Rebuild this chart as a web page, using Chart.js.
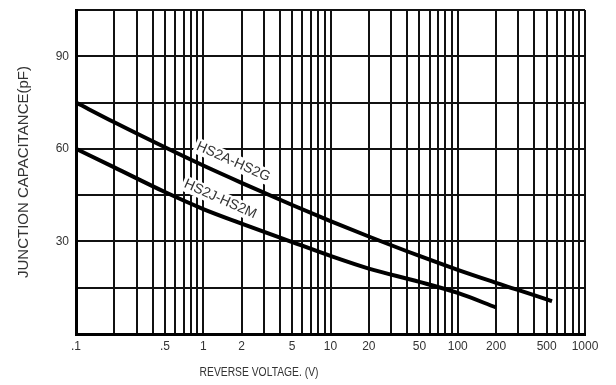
<!DOCTYPE html>
<html>
<head>
<meta charset="utf-8">
<script src="https://cdn.jsdelivr.net/npm/chart.js@4/dist/chart.umd.min.js"></script>
<style>
  html, body { margin: 0; padding: 0; background: #fff; }
  #wrap { width: 616px; height: 385px; }
</style>
</head>
<body>
<div id="wrap"><canvas id="capChart"></canvas></div>
<script>
// curve HS2A-HS2G
const voltsA = [0.1, 0.2, 0.5, 1, 2, 5, 10, 20, 50, 100, 200, 500, 550];
const capA = [75, 68.6, 60.5, 54.6, 49, 41.8, 36.6, 31.6, 25.3, 20.8, 16.6, 11.2, 10.6];
// curve HS2J-HS2M
const voltsB = [0.1, 0.2, 0.5, 1, 2, 5, 10, 20, 50, 100, 200];
const capB = [60, 54, 46, 40.5, 35.8, 29.8, 25.3, 21.2, 16.9, 13.3, 8.6];

const xTickValues = [0.1, 0.5, 1, 2, 5, 10, 20, 50, 100, 200, 500, 1000];
const xTickLabels = [".1", ".5", "1", "2", "5", "10", "20", "50", "100", "200", "500", "1000"];
const yTickValues = [30, 60, 90];

// curve names, placed at (volts, pF)
const curveNames = [
  { text: "HS2A-HS2G", v: 1.72, c: 55.8 },
  { text: "HS2J-HS2M", v: 1.36, c: 43.7 }
];

// vertical grid at 1..9 of every decade
const gridVolts = [];
for (let e = -1; e < 3; e++) {
  for (let m = 1; m < 10; m++) gridVolts.push(+(m * Math.pow(10, e)).toPrecision(3));
}
gridVolts.push(1000);

function toPoints(xs, ys) {
  return xs.map((x, i) => ({ x: x, y: ys[i] }));
}

const curveLabels = {
  id: "curveLabels",
  afterDatasetsDraw(chart) {
    const ctx = chart.ctx;
    const xs = chart.scales.x, ys = chart.scales.y;
    ctx.save();
    ctx.font = "14px 'Liberation Sans', Arial, sans-serif";
    ctx.textAlign = "center";
    ctx.textBaseline = "middle";
    curveNames.forEach(n => {
      const px = xs.getPixelForValue(n.v);
      const py = ys.getPixelForValue(n.c);
      const w = ctx.measureText(n.text).width + 4;
      ctx.save();
      ctx.translate(px, py);
      ctx.rotate(24 * Math.PI / 180);
      ctx.fillStyle = "#fff";
      ctx.fillRect(-w / 2, -8, w, 16);
      ctx.fillStyle = "#333";
      ctx.fillText(n.text, 0, 0);
      ctx.restore();
    });
    // x axis title, narrow lettering, left of centre like the original
    ctx.font = "12px 'Liberation Sans', Arial, sans-serif";
    ctx.fillStyle = "#333";
    ctx.translate(259, 373);
    ctx.scale(0.86, 1);
    ctx.fillText("REVERSE VOLTAGE. (V)", 0, 0);
    ctx.restore();
  }
};

new Chart(document.getElementById("capChart"), {
  type: "scatter",
  data: {
    datasets: [
      {
        label: "HS2A-HS2G",
        data: toPoints(voltsA, capA),
        showLine: true,
        borderColor: "#000",
        borderWidth: 4,
        pointRadius: 0,
        cubicInterpolationMode: "monotone"
      },
      {
        label: "HS2J-HS2M",
        data: toPoints(voltsB, capB),
        showLine: true,
        borderColor: "#000",
        borderWidth: 4,
        pointRadius: 0,
        cubicInterpolationMode: "monotone"
      }
    ]
  },
  options: {
    responsive: true,
    maintainAspectRatio: false,
    animation: false,
    layout: { padding: { left: 15, top: 10, right: 31, bottom: 0 } },
    plugins: {
      legend: { display: false },
      tooltip: { enabled: false }
    },
    scales: {
      x: {
        type: "logarithmic",
        min: 0.1,
        max: 1000,
        afterBuildTicks: (scale) => {
          scale.ticks = gridVolts.map(v => ({ value: v }));
        },
        afterFit: (scale) => {
          scale.height = 51;
          scale.paddingLeft = 0;
          scale.paddingRight = 0;
        },
        grid: { color: "#111", lineWidth: 2, drawTicks: false },
        border: { color: "#000", width: 3 },
        ticks: {
          autoSkip: false,
          maxRotation: 0,
          padding: 5,
          color: "#333",
          font: { family: "'Liberation Sans', Arial, sans-serif", size: 12 },
          callback: (value) => {
            const i = xTickValues.findIndex(t => Math.abs(t - value) < 1e-9);
            return i >= 0 ? xTickLabels[i] : "";
          }
        }
      },
      y: {
        min: 0,
        max: 105,
        afterFit: (scale) => {
          scale.width = 61;
          scale.paddingTop = 0;
          scale.paddingBottom = 0;
        },
        grid: { color: "#111", lineWidth: 2, drawTicks: false },
        border: { color: "#000", width: 3 },
        ticks: {
          stepSize: 15,
          padding: 7,
          color: "#333",
          font: { family: "'Liberation Sans', Arial, sans-serif", size: 12 },
          callback: (value) => yTickValues.includes(value) ? String(value) : ""
        },
        title: {
          display: true,
          text: "JUNCTION CAPACITANCE(pF)",
          color: "#333",
          padding: { top: 0, bottom: 0 },
          font: { family: "'Liberation Sans', Arial, sans-serif", size: 15 }
        }
      }
    }
  },
  plugins: [curveLabels]
});
</script>
</body>
</html>
